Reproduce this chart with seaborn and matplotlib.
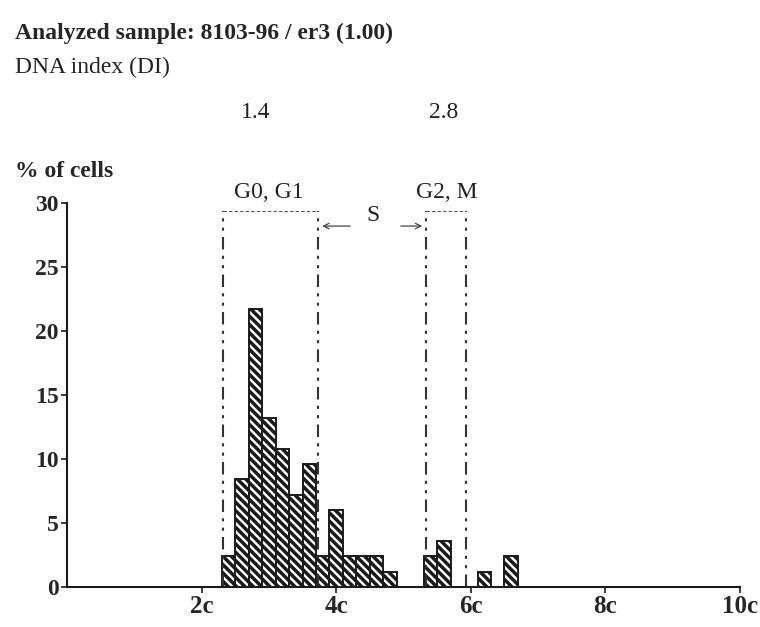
import numpy as np
import pandas as pd
import matplotlib
matplotlib.use('Agg')
import matplotlib.pyplot as plt
import matplotlib.transforms as mtransforms
import seaborn as sns

# DNA content (in c units) of each histogram bin centre and % of cells
dna_content = [2.4, 2.6, 2.8, 3.0, 3.2, 3.4, 3.6, 3.8, 4.0, 4.2, 4.4, 4.6, 4.8,
               5.4, 5.6, 6.2, 6.6]
pct_cells = [2.4, 8.4, 21.7, 13.2, 10.8, 7.2, 9.6, 2.4, 6.0, 2.4, 2.4, 2.4, 1.2,
             2.4, 3.6, 1.2, 2.4]
bin_width = 0.2
bin_range = (2.3, 6.7)

# gate limits of the cell cycle phases (c units)
gate_lines = [2.32, 3.73, 5.34, 5.93]
dna_index_labels = ['1.4', '2.8']
dna_index_pos = [2.8, 5.6]
x_ticks = [2, 4, 6, 8, 10]
x_tick_labels = ['2c', '4c', '6c', '8c', '10c']
y_ticks = [0, 5, 10, 15, 20, 25, 30]

sns.set_style('ticks')
plt.rcParams['font.family'] = ['Liberation Serif', 'DejaVu Serif']
plt.rcParams['hatch.linewidth'] = 2.5
plt.rcParams['hatch.color'] = '#1a1a1a'

fig = plt.figure(figsize=(7.6, 6.27), dpi=100)
ax = fig.add_axes([0.0882, 0.0638, 0.8855, 0.6124])

df = pd.DataFrame({'dna': dna_content, 'pct': pct_cells})
sns.histplot(data=df, x='dna', weights='pct', binwidth=bin_width,
             binrange=bin_range, ax=ax, color='white', edgecolor='#1a1a1a',
             linewidth=1.4, alpha=1)
for p in ax.patches:
    p.set_hatch('\\' * 4)

# gates
ax.vlines(gate_lines, 0, 29.4, colors='#333333', linewidth=1.5,
          linestyles=[(0, (6, 3, 1.5, 3, 1.5, 3))])
ax.plot(gate_lines[:2], [29.4, 29.4], color='#555555', lw=0.8, ls=(0, (3, 2)))
ax.plot(gate_lines[2:], [29.4, 29.4], color='#555555', lw=0.8, ls=(0, (3, 2)))
ax.text(np.mean(gate_lines[:2]) - 0.03, 30.0, 'G0, G1', ha='center', va='bottom',
        fontsize=17, clip_on=False, color='#222222')
ax.text(np.mean(gate_lines[2:]), 30.0, 'G2, M', ha='center', va='bottom',
        fontsize=17, clip_on=False, color='#222222')
ax.text(4.55, 29.0, 'S', ha='center', va='center', fontsize=17, color='#222222')
ax.annotate('', xy=(gate_lines[1] + 0.02, 28.2), xytext=(4.25, 28.2),
            arrowprops=dict(arrowstyle='->', color='#444444', lw=0.9))
ax.annotate('', xy=(gate_lines[2] - 0.02, 28.2), xytext=(4.92, 28.2),
            arrowprops=dict(arrowstyle='->', color='#444444', lw=0.9))

ax.set_xlim(0, 10)
ax.set_ylim(0, 30)
ax.set_xticks(x_ticks)
ax.set_xticklabels(x_tick_labels, fontsize=18, fontweight='bold')
ax.set_yticks(y_ticks)
ax.set_yticklabels([str(v) for v in y_ticks], fontsize=17, fontweight='bold')
ax.set_xlabel('')
ax.set_ylabel('')
ax.tick_params(length=4, width=1.2, color='#1a1a1a', pad=2)
sns.despine(ax=ax)
for s in ['left', 'bottom']:
    ax.spines[s].set_linewidth(1.5)
    ax.spines[s].set_color('#1a1a1a')

# header text
fig.text(0.02, 0.947, 'Analyzed sample: 8103-96 / er3 (1.00)', fontsize=17,
         fontweight='bold', va='center')
fig.text(0.02, 0.893, 'DNA index (DI)', fontsize=17, va='center', color='#222222')
trans = mtransforms.blended_transform_factory(ax.transData, fig.transFigure)
for lab, pos in zip(dna_index_labels, dna_index_pos):
    fig.text(pos, 0.820, lab, fontsize=17, ha='center', va='center',
             transform=trans, color='#222222')
fig.text(0.02, 0.726, '% of cells', fontsize=17, fontweight='bold', va='center')

fig.savefig('out.png', dpi=100, facecolor='white')
